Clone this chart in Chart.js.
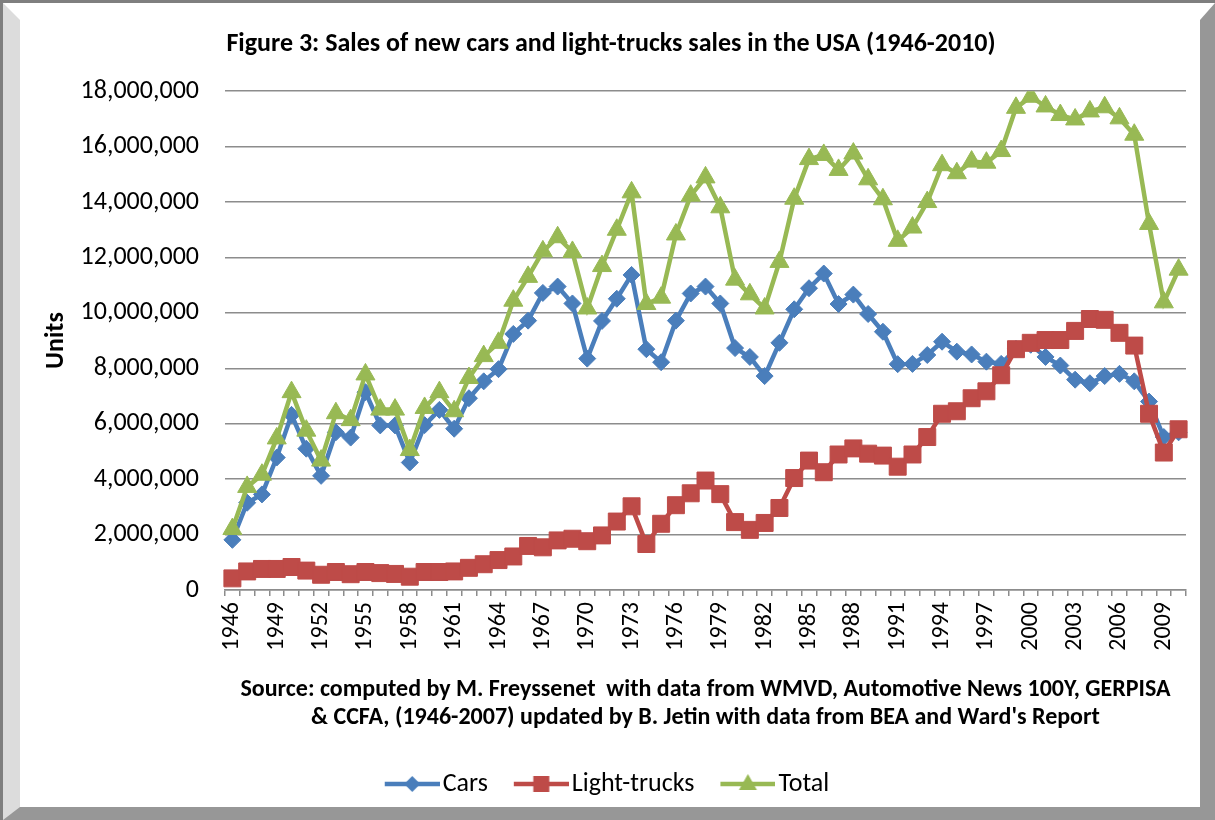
<!DOCTYPE html>
<html lang="en">
<head>
    <meta charset="UTF-8">
    <title>Figure 3: Sales of new cars and light-trucks in the USA</title>
    <script src="https://cdn.jsdelivr.net/npm/chart.js"></script>
    <style>
        html, body { margin: 0; padding: 0; background: #fff; }
        /* bevelled frame like the Excel chart area */
        #frame {
            position: absolute; left: 0; top: 0;
            width: 1215px; height: 820px; box-sizing: border-box;
            border-top: 3px solid #7f7f7f;
            border-left: 3px solid #7f7f7f;
        }
        #inner {
            width: 1212px; height: 817px; box-sizing: border-box;
            border-left: 17px solid #dcdcdc;
            border-top: 17px solid #fff;
            border-right: 15px solid #979797;
            border-bottom: 13px solid #979797;
            background: #fff;
        }
        canvas { display: block; }
    </style>
</head>
<body>
<div id="frame"><div id="inner"><canvas id="salesChart" width="1180" height="787"></canvas></div></div>

<script>
// categories
const years = [1946, 1947, 1948, 1949, 1950, 1951, 1952, 1953, 1954, 1955,
    1956, 1957, 1958, 1959, 1960, 1961, 1962, 1963, 1964, 1965,
    1966, 1967, 1968, 1969, 1970, 1971, 1972, 1973, 1974, 1975,
    1976, 1977, 1978, 1979, 1980, 1981, 1982, 1983, 1984, 1985,
    1986, 1987, 1988, 1989, 1990, 1991, 1992, 1993, 1994, 1995,
    1996, 1997, 1998, 1999, 2000, 2001, 2002, 2003, 2004, 2005,
    2006, 2007, 2008, 2009, 2010];

// years that get a label on the x axis
const shownYears = [1946, 1949, 1952, 1955, 1958, 1961, 1964, 1967, 1970, 1973, 1976,
    1979, 1982, 1985, 1988, 1991, 1994, 1997, 2000, 2003, 2006, 2009];

const yTicks = [0, 2000000, 4000000, 6000000, 8000000, 10000000, 12000000, 14000000, 16000000, 18000000];

// series (units)
const cars = [1810000, 3150000, 3450000, 4780000, 6320000, 5100000, 4120000, 5690000, 5500000, 7140000,
    5940000, 5940000, 4600000, 5950000, 6500000, 5820000, 6920000, 7530000, 7970000, 9240000,
    9720000, 10720000, 10950000, 10340000, 8350000, 9710000, 10510000, 11370000, 8690000, 8220000,
    9720000, 10700000, 10950000, 10340000, 8730000, 8410000, 7720000, 8920000, 10130000, 10890000,
    11420000, 10320000, 10660000, 9960000, 9320000, 8150000, 8160000, 8480000, 8960000, 8600000,
    8500000, 8240000, 8160000, 8700000, 8850000, 8410000, 8100000, 7590000, 7460000, 7720000,
    7800000, 7530000, 6800000, 5520000, 5690000];

const lightTrucks = [420000, 670000, 760000, 760000, 830000, 700000, 550000, 650000, 570000, 650000,
    610000, 580000, 480000, 650000, 650000, 670000, 800000, 930000, 1080000, 1210000,
    1590000, 1540000, 1790000, 1850000, 1760000, 1970000, 2470000, 3020000, 1660000, 2390000,
    3060000, 3490000, 3950000, 3460000, 2450000, 2170000, 2420000, 2960000, 4040000, 4670000,
    4250000, 4890000, 5110000, 4920000, 4850000, 4450000, 4890000, 5520000, 6360000, 6450000,
    6920000, 7170000, 7750000, 8690000, 8920000, 9020000, 9020000, 9350000, 9780000, 9750000,
    9280000, 8820000, 6360000, 4960000, 5800000];

const total = [2200000, 3720000, 4160000, 5470000, 7140000, 5750000, 4670000, 6380000, 6130000, 7780000,
    6510000, 6510000, 5050000, 6570000, 7140000, 6450000, 7650000, 8440000, 8920000, 10440000,
    11300000, 12220000, 12730000, 12200000, 10160000, 11690000, 13000000, 14350000, 10320000, 10550000,
    12830000, 14230000, 14890000, 13810000, 11200000, 10670000, 10160000, 11840000, 14120000, 15550000,
    15700000, 15160000, 15750000, 14820000, 14100000, 12600000, 13080000, 14000000, 15330000, 15040000,
    15460000, 15420000, 15840000, 17400000, 17800000, 17450000, 17140000, 16980000, 17270000, 17420000,
    17020000, 16430000, 13210000, 10380000, 11560000];

const seriesNames = ['Cars', 'Light-trucks', 'Total'];
const colors = ['#4a7ebb', '#be4b48', '#98b954'];
const markers = ['rectRot', 'rect', 'triangle'];
const markerSizes = [8.5, 12, 11];

const tickFont = 'Carlito, Calibri, "Liberation Sans", sans-serif';

// legend icon = short line with the marker in the middle (Excel style)
function legendIcon(color, shape) {
    const c = document.createElement('canvas');
    c.width = 83; c.height = 26;
    const g = c.getContext('2d');
    const x0 = 28, x1 = 83, cx = (x0 + x1) / 2, cy = 13;
    g.strokeStyle = color;
    g.fillStyle = color;
    g.lineWidth = 4.5;
    g.beginPath(); g.moveTo(x0, cy); g.lineTo(x1, cy); g.stroke();
    g.beginPath();
    if (shape === 'rectRot') {
        g.moveTo(cx - 8, cy); g.lineTo(cx, cy - 8); g.lineTo(cx + 8, cy); g.lineTo(cx, cy + 8);
    } else if (shape === 'rect') {
        g.rect(cx - 8, cy - 8, 16, 16);
    } else {
        g.moveTo(cx, cy - 10); g.lineTo(cx + 9, cy + 6); g.lineTo(cx - 9, cy + 6);
    }
    g.closePath(); g.fill();
    return c;
}
const legendIcons = colors.map((c, i) => legendIcon(c, markers[i]));

const seriesData = [cars, lightTrucks, total];
const datasets = seriesData.map((d, i) => ({
    label: seriesNames[i],
    data: d,
    borderColor: colors[i],
    backgroundColor: colors[i],
    borderWidth: 4.5,
    tension: 0,
    pointStyle: markers[i],
    pointRadius: markerSizes[i],
    pointBackgroundColor: colors[i],
    pointBorderColor: colors[i],
    pointBorderWidth: 1,
    order: 3 - i   // Total drawn on top, like Excel
}));

// small horizontal nudges of the title and legend, as in the original
const boxShift = {
    id: 'boxShift',
    afterLayout(chart) {
        chart.legend.left -= 5;
        chart.legend.right -= 5;
        chart.titleBlock.left += 8;
        chart.titleBlock.right += 8;
    }
};

const ctx = document.getElementById('salesChart').getContext('2d');
new Chart(ctx, {
    type: 'line',
    data: { labels: years, datasets: datasets },
    plugins: [boxShift],
    options: {
        responsive: false,
        animation: false,
        devicePixelRatio: 1,
        layout: { padding: { left: 0, right: 14, top: 0, bottom: 0 } },
        plugins: {
            tooltip: { enabled: false },
            title: {
                display: true,
                text: 'Figure 3: Sales of new cars and light-trucks sales in the USA (1946-2010)',
                color: '#000',
                font: { family: tickFont, size: 26, weight: 'bold' },
                padding: { top: 9, bottom: 31 }
            },
            legend: {
                position: 'bottom',
                labels: {
                    usePointStyle: true,
                    pointStyleWidth: 63,
                    padding: 8,
                    color: '#000',
                    font: { family: tickFont, size: 26 },
                    generateLabels: () => seriesNames.map((name, i) => ({
                        text: name,
                        pointStyle: legendIcons[i],
                        fillStyle: colors[i],
                        strokeStyle: colors[i],
                        lineWidth: 0,
                        hidden: false,
                        datasetIndex: i,
                        fontColor: '#000'
                    }))
                }
            }
        },
        scales: {
            x: {
                offset: true,
                afterFit: s => { s.height = 173; s.paddingRight = 0; s.paddingLeft = 0; },
                grid: {
                    offset: true,
                    drawOnChartArea: false,
                    drawTicks: true,
                    tickLength: 6,
                    color: '#8c8c8c',
                    lineWidth: 1.5
                },
                border: { display: true, color: '#8c8c8c', width: 1.5 },
                ticks: {
                    autoSkip: false,
                    minRotation: 90,
                    maxRotation: 90,
                    padding: 6,
                    color: '#000',
                    font: { family: tickFont, size: 24 },
                    callback: function (value, index) {
                        const y = years[index];
                        return shownYears.includes(y) ? String(y) : '';
                    }
                },
                title: {
                    display: true,
                    text: ['Source: computed by M. Freyssenet  with data from WMVD, Automotive News 100Y, GERPISA',
                        "& CCFA, (1946-2007) updated by B. Jetin with data from BEA and Ward's Report"],
                    color: '#000',
                    font: { family: tickFont, size: 24, weight: 'bold', lineHeight: '28px' },
                    padding: { top: 0, bottom: 31 }
                }
            },
            y: {
                min: 0,
                max: 18000000,
                afterFit: s => { s.width = 205; },
                afterBuildTicks: s => { s.ticks = yTicks.map(v => ({ value: v })); },
                grid: { color: '#8c8c8c', lineWidth: 1.5, drawTicks: false },
                border: { display: false },
                ticks: {
                    padding: 26,
                    color: '#000',
                    font: { family: tickFont, size: 26 },
                    callback: v => v.toLocaleString('en-US')
                },
                title: {
                    display: true,
                    text: 'Units',
                    color: '#000',
                    font: { family: tickFont, size: 26, weight: 'bold' },
                    padding: { top: 21, bottom: 0 }
                }
            }
        }
    }
});
</script>
</body>
</html>
